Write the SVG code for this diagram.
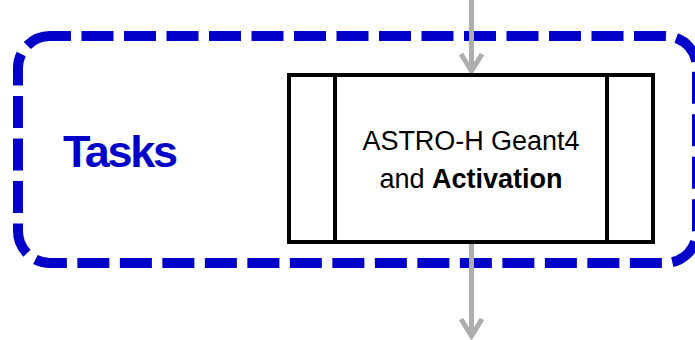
<svg xmlns="http://www.w3.org/2000/svg" width="695" height="340" viewBox="0 0 695 340">
<defs>
<style>
.grp{fill:none;stroke:#0000C8;stroke-width:10;stroke-dasharray:32 10.5}
.box{fill:#fff;stroke:#000;stroke-width:4}
.div{stroke:#000;stroke-width:4}
.conn{fill:none;stroke:#AEAEAE;stroke-width:5}
.head{fill:none;stroke:#AEAEAE;stroke-width:5;stroke-linejoin:miter}
.lbl{font-family:"Liberation Sans",Arial,sans-serif;font-size:27px;fill:#000}
</style>
</defs>
<rect width="695" height="340" fill="#fff"/>
<g id="tasks-group">
<rect class="grp" x="18" y="36" width="679" height="227" rx="32" ry="32" stroke-dashoffset="11"/>
<text x="63" y="167" font-family="Liberation Sans,Arial,sans-serif" font-weight="bold" font-size="45" fill="#0000C8" textLength="115">Tasks</text>
</g>
<g id="connectors">
<line class="conn" x1="471.5" y1="0" x2="471.5" y2="70"/>
<polyline class="head" points="461,54 471.5,71 482,54"/>
<line class="conn" x1="471.5" y1="244" x2="471.5" y2="335"/>
<polyline class="head" points="461,319 471.5,336 482,319"/>
</g>
<g id="node-geant4">
<rect class="box" x="289" y="75" width="364" height="167"/>
<line class="div" x1="335" y1="75" x2="335" y2="242"/>
<line class="div" x1="607" y1="75" x2="607" y2="242"/>
<text class="lbl" x="471" y="150" text-anchor="middle" textLength="217">ASTRO-H Geant4</text>
<text class="lbl" x="471" y="188" text-anchor="middle">and <tspan font-weight="bold">Activation</tspan></text>
</g>
</svg>
